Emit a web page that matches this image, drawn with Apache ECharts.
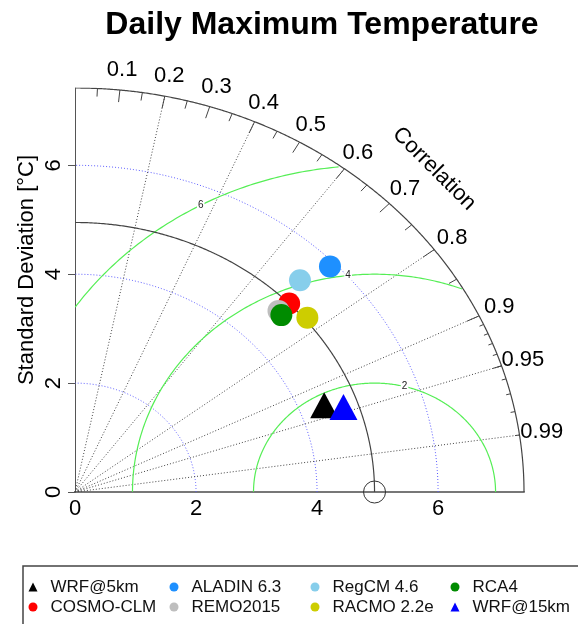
<!DOCTYPE html>
<html><head><meta charset="utf-8">
<script src="https://cdn.jsdelivr.net/npm/echarts@6/dist/echarts.min.js"></script>
<style>html,body{margin:0;padding:0;background:#fff}#c{width:578px;height:624px}</style>
</head><body><div id="c"></div>
<script>
// ---- data ----
const models = ['WRF@5km','COSMO-CLM','ALADIN 6.3','REMO2015','RegCM 4.6','RACMO 2.2e','RCA4','WRF@15km'];
const sdValues = [4.39, 4.95, 5.91, 4.73, 5.38, 5.00, 4.71, 4.68];
const corValues = [0.938, 0.715, 0.713, 0.711, 0.691, 0.768, 0.724, 0.948];
const refSD = 4.95;
const maxSD = 7.42;
const sdTicks = [0, 2, 4, 6];
const sdArcs = [2, 4, 6];
const rmsLevels = [2, 4, 6];
const corLabels = [0.1, 0.2, 0.3, 0.4, 0.5, 0.6, 0.7, 0.8, 0.9, 0.95, 0.99];
const corLines = [0.2, 0.4, 0.6, 0.8, 0.9, 0.95, 0.99];
const bigTicks = [0.1, 0.2, 0.3, 0.4, 0.5, 0.6, 0.7, 0.8, 0.9];
const medTicks = [0.05, 0.15, 0.25, 0.35, 0.45, 0.55, 0.65, 0.75, 0.85, 0.95];
const tinyTicks = [0.91, 0.92, 0.93, 0.94, 0.95, 0.96, 0.97, 0.98, 0.99];
// ---- styles ----
const modelColors = ['#000000','#FF0000','#1E90FF','#BEBEBE','#87CEEB','#CDCD00','#008B00','#0000FF'];
const modelShapes = ['triangle','circle','circle','circle','circle','circle','circle','triangle'];
const rmsLabelAngles = [1.32, 1.68, 2.07];
const FONT = '"Liberation Sans", Arial, sans-serif';

function toXY(sd, cor) { return [sd * cor, sd * Math.sqrt(Math.max(0, 1 - cor * cor))]; }
function arc(cx, r, a0, a1, step) {
  const pts = [];
  for (let t = a0; t <= a1 + 1e-9; t += step) pts.push([cx + r * Math.cos(t), r * Math.sin(t)]);
  return pts;
}

const series = [];
// sd arcs (blue dotted)
series.push({
  type: 'lines', coordinateSystem: 'cartesian2d', polyline: true, silent: true, z: 1,
  lineStyle: { color: '#5a5aff', width: 1, type: [1, 2], opacity: 1 },
  data: sdArcs.map(r => ({ coords: arc(0, r, 0, Math.PI / 2, 0.005) }))
});
// radial correlation lines
series.push({
  type: 'lines', coordinateSystem: 'cartesian2d', silent: true, z: 1,
  lineStyle: { color: '#444', width: 1, type: [1, 2], opacity: 1 },
  data: corLines.map(c => ({ coords: [[0, 0], toXY(maxSD, c)] }))
});
// RMS arcs (green)
series.push({
  type: 'lines', coordinateSystem: 'cartesian2d', polyline: true, silent: true, z: 2,
  lineStyle: { color: '#55ee55', width: 1.2, opacity: 1 },
  data: rmsLevels.map(g => ({
    coords: arc(refSD, g, 0, Math.PI, 0.01).filter(p => p[0] >= 0 && p[0] * p[0] + p[1] * p[1] <= maxSD * maxSD)
  }))
});
// reference sd arc + outer arc
series.push({
  type: 'lines', coordinateSystem: 'cartesian2d', polyline: true, silent: true, z: 2,
  lineStyle: { color: '#444', width: 1.2, opacity: 1 },
  data: [{ coords: arc(0, refSD, 0, Math.PI / 2, 0.005) }, { coords: arc(0, maxSD, 0, Math.PI / 2, 0.003) }]
});
// correlation ticks
const tickData = [];
bigTicks.forEach(c => tickData.push({ coords: [toXY(maxSD, c), toXY(maxSD * 0.97, c)] }));
medTicks.forEach(c => tickData.push({ coords: [toXY(maxSD, c), toXY(maxSD * 0.98, c)] }));
tinyTicks.forEach(c => tickData.push({ coords: [toXY(maxSD, c), toXY(maxSD * 0.99, c)] }));
series.push({
  type: 'lines', coordinateSystem: 'cartesian2d', silent: true, z: 2,
  lineStyle: { color: '#444', width: 1, opacity: 1 },
  data: tickData
});
// RMS labels
series.push({
  type: 'scatter', silent: true, symbolSize: 0, z: 3, clip: false,
  itemStyle: { opacity: 1 },
  data: rmsLevels.map((g, i) => {
    const a = rmsLabelAngles[i];
    return [refSD + g * Math.cos(a), g * Math.sin(a), g];
  }),
  label: { show: true, position: 'inside', formatter: p => String(p.value[2]), fontSize: 10, color: '#222',
    backgroundColor: '#fff', padding: [0, 1], fontFamily: FONT }
});
// correlation labels
series.push({
  type: 'scatter', silent: true, symbolSize: 0, z: 3, clip: false,
  itemStyle: { opacity: 1 },
  data: corLabels.map(c => { const p = toXY(maxSD * 1.05, c); return [p[0], p[1], c]; }),
  label: { show: true, position: 'inside', formatter: p => String(p.value[2]), fontSize: 22, color: '#000', fontFamily: FONT }
});
series.push({
  type: 'scatter', silent: true, symbolSize: 0, z: 3, clip: false,
  itemStyle: { opacity: 1 },
  data: [[maxSD * 0.8, maxSD * 0.8]],
  label: { show: true, position: 'inside', formatter: 'Correlation', rotate: -45, fontSize: 22, color: '#000', fontFamily: FONT }
});
// reference point
series.push({
  type: 'scatter', silent: true, symbol: 'circle', symbolSize: 22, z: 3, clip: false,
  data: [[refSD, 0]],
  itemStyle: { color: 'rgba(0,0,0,0)', borderColor: '#333', borderWidth: 1, opacity: 1 }
});
// models
models.forEach((m, i) => {
  const tri = modelShapes[i] === 'triangle';
  series.push({
    type: 'scatter', name: m, z: 5, clip: false,
    symbol: modelShapes[i],
    symbolSize: tri ? [28, 26] : 22,
    symbolOffset: tri ? [0, -4] : [0, 0],
    itemStyle: { color: modelColors[i], opacity: 1 },
    data: [toXY(sdValues[i], corValues[i])]
  });
});

// legends: 4 columns x 2 rows (column-major)
const colIcon = [33, 174, 315, 455];
const rowY = [587, 607];
const legends = models.map((m, i) => ({
  left: colIcon[Math.floor(i / 2)] - 4.5, top: rowY[i % 2] - 10,
  itemWidth: 9, itemHeight: 9, selectedMode: false, padding: 0,
  data: [{ name: m, icon: modelShapes[i] }],
  textStyle: { fontSize: 17, color: '#111', fontFamily: FONT, lineHeight: 20, padding: [0, 0, 0, 8] }
}));

const option = {
  animation: false,
  backgroundColor: '#fff',
  title: {
    text: 'Daily Maximum Temperature', left: 317, textAlign: 'center', top: 4,
    textStyle: { fontSize: 32, fontWeight: 'bold', color: '#000', fontFamily: FONT }
  },
  grid: { left: 75, top: 88, width: 449, height: 404, containLabel: false },
  xAxis: {
    type: 'value', min: 0, max: maxSD, interval: 2,
    axisLine: { show: true, lineStyle: { color: '#777', width: 2 } },
    axisTick: { show: false },
    splitLine: { show: false },
    axisLabel: { customValues: sdTicks, fontSize: 22, color: '#000', margin: 6, fontFamily: FONT }
  },
  yAxis: {
    type: 'value', min: 0, max: maxSD, interval: 2,
    axisLine: { show: true, lineStyle: { color: '#555', width: 1 } },
    axisTick: { show: true, length: 7, customValues: sdTicks, lineStyle: { color: '#555' } },
    splitLine: { show: false },
    axisLabel: { customValues: sdTicks, fontSize: 22, color: '#000', margin: 10, rotate: 90, fontFamily: FONT }
  },
  legend: legends,
  graphic: [
    { type: 'text', x: 27, y: 270, rotation: Math.PI / 2,
      style: { text: 'Standard Deviation [°C]', x: 0, y: 0, textAlign: 'center', textVerticalAlign: 'middle',
        align: 'center', verticalAlign: 'middle', fontSize: 22, fontFamily: FONT, fill: '#000' } },
    { type: 'rect', shape: { x: 23, y: 566, width: 620, height: 100 },
      style: { fill: 'none', stroke: '#444', lineWidth: 1.5 }, silent: true }
  ],
  series: series
};
const chart = echarts.init(document.getElementById('c'));
chart.setOption(option);
</script></body></html>
